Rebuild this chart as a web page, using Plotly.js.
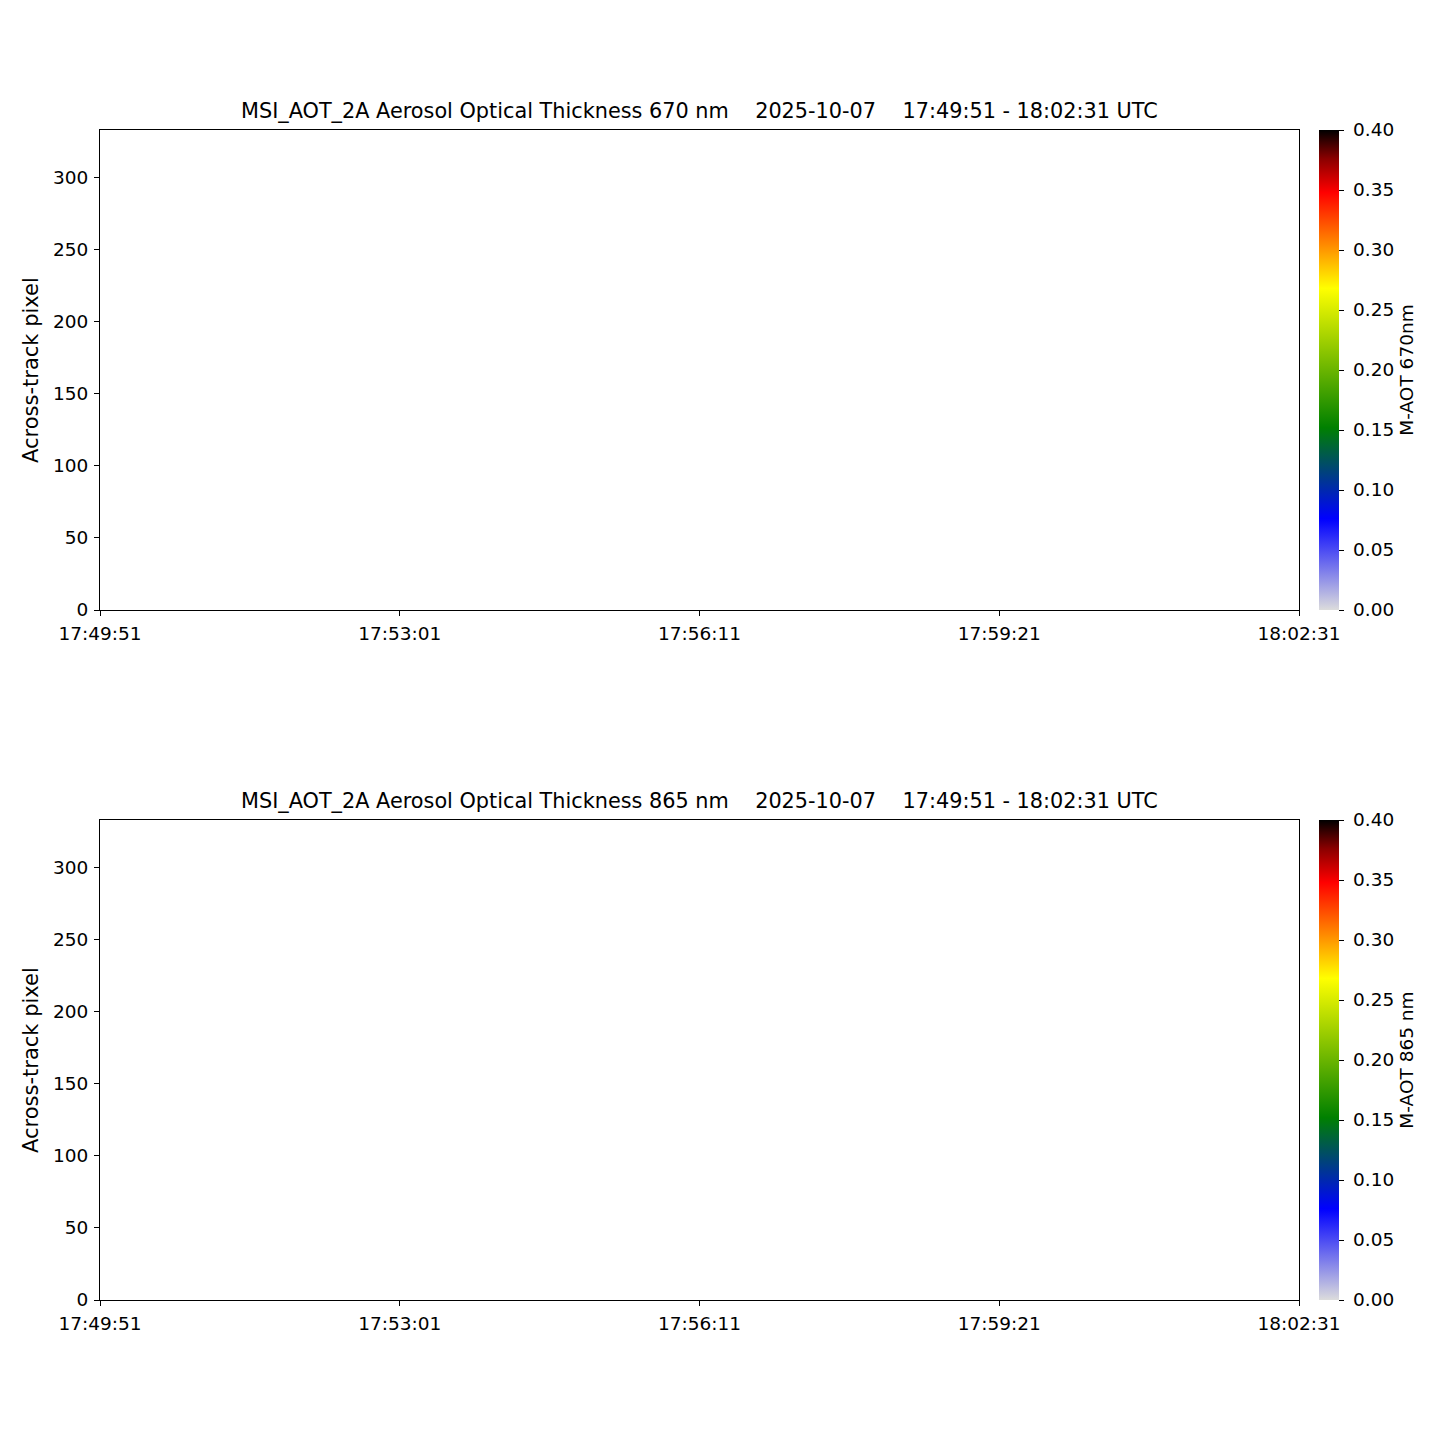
<!DOCTYPE html>
<html>
<head>
<meta charset="utf-8">
<script src="https://cdn.plot.ly/plotly-3.0.1.min.js"></script>
<style>body{margin:0;padding:0;background:#fff;} #chart{width:1450px;height:1430px;}</style>
</head>
<body>
<div id="chart"></div>
<script>
// Time axis: seconds since 17:49:51
const tickSeconds = [0, 190, 380, 570, 760];
const tickLabels = ["17:49:51", "17:53:01", "17:56:11", "17:59:21", "18:02:31"];
const pixelRange = [0, 333.3];
const pixelTicks = [0, 50, 100, 150, 200, 250, 300];
// No valid retrievals in this granule: all values missing
const aotTimes = [null];
const aotPixels = [null];
const aot670 = [null];
const aot865 = [null];
const titles = [
  "MSI_AOT_2A Aerosol Optical Thickness 670 nm    2025-10-07    17:49:51 - 18:02:31 UTC",
  "MSI_AOT_2A Aerosol Optical Thickness 865 nm    2025-10-07    17:49:51 - 18:02:31 UTC"
];
const cbTitles = ["M-AOT 670nm", "M-AOT 865 nm"];
const cbTicks = [0, 0.05, 0.10, 0.15, 0.20, 0.25, 0.30, 0.35, 0.40];
const colorscale = [
  [0.00, "#dcdcdc"],
  [0.19, "#0000ff"],
  [0.38, "#008000"],
  [0.67, "#ffff00"],
  [0.74, "#ffa500"],
  [0.87, "#ff0000"],
  [0.94, "#8b0000"],
  [1.00, "#000000"]
];

const W = 1450, H = 1430;
const font = {family: "DejaVu Sans", color: "#000"};
const TF = 18.5;
const panels = [{top: 130, bottom: 610}, {top: 820, bottom: 1300}];
const xl = 100, xr = 1299;

const nb = s => s.replace(/ /g, "\u00a0");

const traces = [];
const layout = {
  width: W, height: H,
  margin: {l: 0, r: 0, t: 0, b: 0},
  paper_bgcolor: "#fff", plot_bgcolor: "#fff",
  font: Object.assign({size: TF}, font),
  showlegend: false,
  annotations: []
};

[aot670, aot865].forEach((z, i) => {
  const p = panels[i];
  const xa = i === 0 ? "x" : "x2", ya = i === 0 ? "y" : "y2";
  traces.push({
    type: "scatter", mode: "markers", x: aotTimes, y: aotPixels,
    xaxis: xa, yaxis: ya,
    hoverinfo: "skip",
    marker: {
      color: z, cmin: 0, cmax: 0.4, colorscale: colorscale, showscale: true,
      colorbar: {
        x: 1319 / W, xanchor: "left", xref: "paper",
        y: 1 - p.bottom / H, yanchor: "bottom",
        len: (p.bottom - p.top) / H, lenmode: "fraction",
        thickness: 20, outlinewidth: 0, xpad: 0, ypad: 0,
        ticks: "outside", ticklen: 5, tickwidth: 1, tickcolor: "#000",
        tickvals: cbTicks, ticktext: cbTicks.map(v => "\u00a0" + v.toFixed(2)),
        tickfont: Object.assign({size: TF}, font),
        title: {text: cbTitles[i], side: "right", font: Object.assign({size: TF}, font)}
      }
    }
  });
  const axX = {
    domain: [xl / W, xr / W], anchor: ya,
    range: [tickSeconds[0], tickSeconds[tickSeconds.length - 1]],
    tickvals: tickSeconds, ticktext: tickLabels,
    ticks: "outside", ticklen: 5, tickwidth: 1, tickcolor: "#000",
    ticklabelstandoff: 2,
    showline: true, linecolor: "#000", linewidth: 1, mirror: true,
    showgrid: false, zeroline: false,
    tickfont: Object.assign({size: TF}, font)
  };
  const axY = {
    domain: [1 - p.bottom / H, 1 - p.top / H], anchor: xa,
    range: pixelRange, tickvals: pixelTicks,
    ticks: "outside", ticklen: 5, tickwidth: 1, tickcolor: "#000",
    ticklabelstandoff: 2,
    showline: true, linecolor: "#000", linewidth: 1, mirror: true,
    showgrid: false, zeroline: false,
    tickfont: Object.assign({size: TF}, font)
  };
  layout[i === 0 ? "xaxis" : "xaxis2"] = axX;
  layout[i === 0 ? "yaxis" : "yaxis2"] = axY;
  layout.annotations.push({
    text: nb(titles[i]), xref: "paper", yref: "paper",
    x: (xl + xr) / 2 / W, y: 1 - (p.top - 5) / H,
    xanchor: "center", yanchor: "bottom", showarrow: false,
    font: Object.assign({size: 20.8}, font)
  });
  layout.annotations.push({
    text: "Across-track pixel", xref: "paper", yref: "paper",
    x: 31 / W, y: 1 - (p.top + p.bottom) / 2 / H,
    xanchor: "center", yanchor: "middle", textangle: -90, showarrow: false,
    font: Object.assign({size: 21}, font)
  });
});

Plotly.newPlot("chart", traces, layout, {displayModeBar: false, staticPlot: true});
</script>
</body>
</html>
